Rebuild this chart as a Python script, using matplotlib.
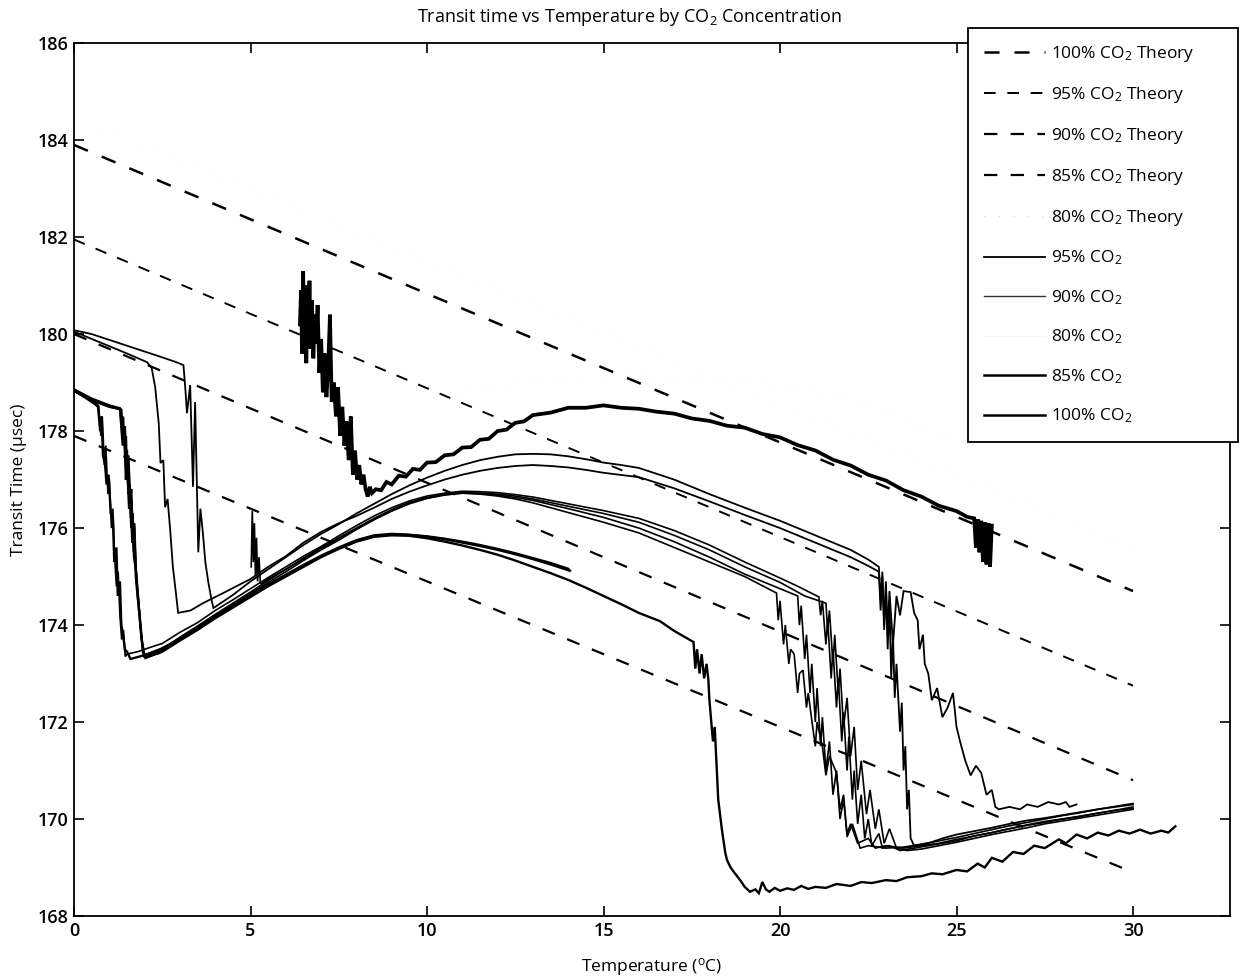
import matplotlib
matplotlib.use("Agg")
import matplotlib.pyplot as plt
from matplotlib.lines import Line2D

plt.rcParams["font.family"] = ["Open Sans", "DejaVu Sans"]
plt.rcParams["mathtext.fontset"] = "custom"
plt.rcParams["mathtext.rm"] = "Open Sans"
plt.rcParams["mathtext.it"] = "Open Sans"

# theory lines (end points, x in degC, y in usec)
theory_x = [0, 30]
theory_100 = [183.9, 174.7]
theory_95 = [181.95, 172.75]
theory_90 = [180.0, 170.8]
theory_85 = [177.9, 168.9]
theory_80 = [184.45, 175.6]

# measured runs, (temperature, transit time)
co2_100 = [(6.40, 180.2), (6.43, 180.9), (6.46, 179.6), (6.49, 181.3), (6.52, 180.0), (6.55, 181.0),
           (6.58, 179.4), (6.61, 180.8), (6.64, 179.9), (6.67, 181.1), (6.70, 179.7), (6.74, 180.7),
           (6.78, 179.5), (6.82, 180.4), (6.86, 179.8), (6.90, 180.6), (6.95, 179.2), (7.00, 179.9),
           (7.05, 178.8), (7.10, 179.6), (7.15, 178.7), (7.20, 179.3), (7.25, 180.4), (7.30, 178.6),
           (7.36, 179.0), (7.42, 178.3), (7.48, 178.9), (7.54, 177.9), (7.60, 178.5), (7.66, 177.7),
           (7.72, 178.2), (7.78, 177.4), (7.84, 178.3), (7.90, 177.1), (7.96, 177.6), (8.02, 177.0),
           (8.08, 177.3), (8.14, 176.9), (8.20, 177.1), (8.26, 176.8), (8.32, 176.65), (8.38, 176.85),
           (8.44, 176.72), (8.55, 176.8), (8.70, 176.78), (8.85, 176.95), (9.0, 176.9), (9.2, 177.08),
           (9.4, 177.06), (9.6, 177.22), (9.8, 177.2), (10.0, 177.35), (10.25, 177.36), (10.5, 177.5),
           (10.75, 177.52), (11.0, 177.66), (11.25, 177.67), (11.5, 177.82), (11.75, 177.84), (12.0, 178.0),
           (12.25, 178.03), (12.5, 178.17), (12.75, 178.2), (13.0, 178.33), (13.5, 178.38), (14.0, 178.48),
           (14.5, 178.48), (15.0, 178.53), (15.5, 178.48), (16.0, 178.46), (16.5, 178.4), (17.0, 178.36),
           (17.5, 178.26), (18.0, 178.21), (18.5, 178.11), (19.0, 178.07), (19.5, 177.94), (20.0, 177.87),
           (20.5, 177.71), (21.0, 177.6), (21.5, 177.41), (22.0, 177.29), (22.5, 177.1), (23.0, 176.98),
           (23.5, 176.78), (24.0, 176.65), (24.5, 176.46), (25.0, 176.35), (25.3, 176.23), (25.5, 176.2),
           (25.55, 175.6), (25.6, 176.18), (25.65, 175.5), (25.7, 176.15), (25.75, 175.3), (25.8, 176.12),
           (25.85, 175.25), (25.9, 176.1), (25.95, 175.2), (26.0, 176.05)]

co2_95a = [(0, 180.08), (0.5, 180.0), (1.0, 179.88), (1.5, 179.76), (2.0, 179.64), (2.5, 179.52),
           (2.9, 179.42), (3.1, 179.36), (3.15, 178.9), (3.2, 178.37), (3.29, 178.95), (3.37, 176.85),
           (3.43, 178.6), (3.52, 175.5), (3.58, 176.4), (3.65, 175.9), (3.72, 175.3), (3.8, 174.9),
           (3.9, 174.5), (3.95, 174.35), (4.5, 174.62), (5.0, 174.9), (5.5, 175.15), (6.0, 175.4),
           (6.5, 175.65), (7.0, 175.88), (7.5, 176.08), (8.0, 176.3), (8.5, 176.5), (9.0, 176.7),
           (9.5, 176.88), (10.0, 177.04), (10.5, 177.18), (11.0, 177.3), (11.5, 177.4), (12.0, 177.47),
           (12.5, 177.52), (13.0, 177.53), (13.5, 177.52), (14.0, 177.48), (14.5, 177.42), (15.0, 177.35),
           (15.5, 177.3), (16.0, 177.24), (17.0, 177.0), (18.0, 176.7), (19.0, 176.42), (20.0, 176.15),
           (21.0, 175.85), (22.0, 175.55), (22.5, 175.35), (22.8, 175.2), (22.85, 174.5), (22.9, 175.1),
           (22.95, 174.0), (23.0, 174.9), (23.05, 173.8), (23.1, 174.7), (23.2, 173.6), (23.3, 174.6),
           (23.4, 174.2), (23.5, 174.7), (23.7, 174.68), (23.8, 174.25), (23.9, 174.1), (23.95, 173.5),
           (24.05, 173.8), (24.1, 173.2), (24.2, 173.0), (24.3, 172.45), (24.45, 172.7), (24.6, 172.1),
           (24.75, 172.3), (24.9, 172.6), (25.0, 171.9), (25.1, 171.6), (25.25, 171.2), (25.4, 170.9),
           (25.55, 171.1), (25.7, 170.95), (25.85, 170.5), (26.0, 170.6), (26.1, 170.25), (26.2, 170.2),
           (26.5, 170.25), (26.8, 170.2), (27.0, 170.3), (27.3, 170.25), (27.6, 170.35), (27.9, 170.3),
           (28.1, 170.35), (28.2, 170.25), (28.4, 170.3)]

co2_95b = [(0, 180.05), (0.5, 179.9), (1.0, 179.75), (1.5, 179.6), (2.07, 179.42), (2.2, 179.3),
           (2.3, 178.9), (2.4, 178.16), (2.45, 177.34), (2.53, 177.4), (2.58, 176.43), (2.65, 176.6),
           (2.72, 176.0), (2.8, 175.2), (2.88, 174.7), (2.95, 174.25), (3.08, 174.27), (3.3, 174.3),
           (3.65, 174.45), (4.2, 174.65), (5.0, 174.95), (5.5, 175.2), (6.0, 175.42), (6.5, 175.7),
           (7.0, 175.92), (7.5, 176.1), (8.0, 176.25), (8.5, 176.42), (9.0, 176.6), (9.5, 176.75),
           (10.0, 176.88), (10.5, 177.0), (11.0, 177.1), (11.5, 177.18), (12.0, 177.24), (12.5, 177.28),
           (13.0, 177.3), (13.5, 177.28), (14.0, 177.25), (14.5, 177.2), (15.0, 177.14), (16.0, 177.05),
           (17.0, 176.82), (18.0, 176.55), (19.0, 176.27), (20.0, 176.0), (21.0, 175.7), (22.0, 175.4),
           (22.5, 175.22), (22.8, 175.1), (22.85, 174.3), (22.9, 175.0), (22.95, 173.9), (23.0, 174.8),
           (23.05, 173.5), (23.1, 174.5), (23.15, 172.9), (23.2, 173.8), (23.25, 172.5), (23.3, 173.2),
           (23.4, 171.8), (23.45, 172.4), (23.5, 171.0), (23.55, 171.5), (23.6, 170.2), (23.65, 170.6),
           (23.7, 169.6), (23.8, 169.45), (24.2, 169.5), (24.6, 169.6), (25.0, 169.68), (25.5, 169.75),
           (26.0, 169.82), (26.5, 169.9), (27.0, 169.97), (27.5, 170.02), (28.0, 170.08), (28.5, 170.14),
           (29.0, 170.2), (29.5, 170.25), (30.0, 170.3)]

co2_90a = [(0, 178.85), (0.3, 178.72), (0.6, 178.58), (0.7, 178.52), (0.76, 177.9), (0.8, 178.3),
           (0.86, 177.3), (0.9, 177.7), (0.96, 176.7), (1.0, 177.0), (1.06, 176.0), (1.1, 176.4),
           (1.15, 175.4), (1.2, 174.8), (1.25, 175.1), (1.3, 174.2), (1.35, 173.7), (1.4, 173.9),
           (1.45, 173.35), (1.5, 173.4), (1.8, 173.45), (2.2, 173.55), (2.5, 173.62), (3.0, 173.85),
           (3.5, 174.05), (4.0, 174.3), (4.5, 174.52), (5.0, 174.75), (5.5, 174.98), (6.0, 175.2),
           (6.5, 175.42), (7.0, 175.62), (7.5, 175.84), (8.0, 176.05), (8.5, 176.25), (9.0, 176.42),
           (9.5, 176.56), (10.0, 176.66), (10.5, 176.72), (11.0, 176.76), (11.5, 176.75), (12.0, 176.73),
           (12.5, 176.69), (13.0, 176.64), (14.0, 176.5), (15.0, 176.36), (16.0, 176.2), (17.0, 175.95),
           (18.0, 175.65), (19.0, 175.3), (20.0, 174.97), (20.5, 174.8), (21.1, 174.58), (21.15, 174.2),
           (21.2, 174.5), (21.3, 173.6), (21.35, 174.1), (21.45, 172.9), (21.5, 173.5), (21.6, 172.3),
           (21.65, 172.9), (21.75, 171.6), (21.8, 172.2), (21.9, 171.0), (21.95, 171.7), (22.05, 170.4),
           (22.1, 171.0), (22.2, 169.9), (22.3, 170.5), (22.4, 169.6), (22.5, 170.0), (22.6, 169.45),
           (22.8, 169.7), (22.9, 169.4), (23.1, 169.45), (23.4, 169.35), (23.8, 169.4), (24.2, 169.45),
           (24.6, 169.5), (25.0, 169.55), (25.5, 169.65), (26.0, 169.72), (26.5, 169.8), (27.0, 169.88),
           (27.5, 169.95), (28.0, 170.0), (28.5, 170.05), (29.0, 170.12), (29.5, 170.18), (30.0, 170.22)]

co2_90b = [(0, 178.85), (0.5, 178.66), (1.0, 178.52), (1.3, 178.46), (1.36, 178.0), (1.4, 178.3),
           (1.44, 177.6), (1.48, 177.9), (1.52, 176.9), (1.56, 177.2), (1.6, 176.2), (1.64, 176.6),
           (1.68, 175.5), (1.72, 175.8), (1.78, 174.8), (1.84, 174.4), (1.9, 173.8), (1.95, 173.5),
           (2.0, 173.34), (2.3, 173.42), (2.6, 173.55), (3.0, 173.75), (3.5, 173.98), (4.0, 174.22),
           (4.5, 174.45), (5.0, 174.68), (5.5, 174.92), (6.0, 175.15), (6.5, 175.38), (7.0, 175.6),
           (7.5, 175.8), (8.0, 176.0), (8.5, 176.2), (9.0, 176.38), (9.5, 176.53), (10.0, 176.63),
           (10.5, 176.7), (11.0, 176.73), (11.5, 176.72), (12.0, 176.7), (12.5, 176.66), (13.0, 176.6),
           (14.0, 176.45), (15.0, 176.3), (16.0, 176.12), (17.0, 175.85), (18.0, 175.55), (19.0, 175.2),
           (20.0, 174.88), (20.7, 174.6), (21.3, 174.45), (21.35, 173.9), (21.4, 174.3), (21.5, 173.2),
           (21.55, 173.8), (21.65, 172.6), (21.7, 173.1), (21.8, 171.9), (21.9, 172.5), (22.0, 171.3),
           (22.1, 171.9), (22.2, 170.6), (22.3, 171.2), (22.45, 170.1), (22.55, 170.6), (22.7, 169.8),
           (22.8, 170.2), (22.95, 169.5), (23.1, 169.8), (23.3, 169.4), (23.6, 169.35), (24.0, 169.38),
           (24.5, 169.45), (25.0, 169.52), (25.5, 169.6), (26.0, 169.68), (26.5, 169.75), (27.0, 169.82),
           (27.5, 169.9), (28.0, 169.96), (28.5, 170.02), (29.0, 170.08), (29.5, 170.14), (30.0, 170.2)]

co2_90c = [(0, 178.82), (0.5, 178.63), (1.0, 178.5), (1.35, 178.44), (1.4, 177.8), (1.45, 178.1),
           (1.5, 177.2), (1.55, 177.5), (1.6, 176.5), (1.63, 176.8), (1.67, 175.9), (1.72, 176.1),
           (1.76, 175.1), (1.82, 174.6), (1.88, 174.0), (1.93, 173.6), (1.98, 173.38), (2.3, 173.45),
           (2.7, 173.6), (3.0, 173.73), (3.5, 173.96), (4.0, 174.2), (4.5, 174.42), (5.0, 174.65),
           (5.5, 174.88), (6.0, 175.1), (6.5, 175.33), (7.0, 175.55), (7.5, 175.75), (8.0, 175.97),
           (8.5, 176.17), (9.0, 176.35), (9.5, 176.5), (10.0, 176.61), (10.5, 176.68), (11.0, 176.72),
           (11.5, 176.71), (12.0, 176.68), (12.5, 176.63), (13.0, 176.57), (14.0, 176.4), (15.0, 176.22),
           (16.0, 176.0), (17.0, 175.72), (18.0, 175.4), (19.0, 175.05), (20.0, 174.75), (20.5, 174.6),
           (20.55, 174.0), (20.6, 174.4), (20.7, 173.3), (20.75, 173.8), (20.85, 172.6), (20.9, 173.2),
           (21.0, 172.0), (21.05, 172.7), (21.15, 171.5), (21.2, 172.1), (21.3, 171.0), (21.4, 171.6),
           (21.5, 170.5), (21.6, 171.0), (21.7, 170.0), (21.8, 170.4), (21.9, 169.7), (22.0, 169.9),
           (22.2, 169.5), (22.5, 169.6), (22.7, 169.4), (23.0, 169.45), (23.5, 169.4), (24.0, 169.45),
           (24.5, 169.5), (25.0, 169.58), (25.5, 169.65), (26.0, 169.72), (26.5, 169.8), (27.0, 169.87),
           (27.5, 169.93), (28.0, 170.0), (28.5, 170.06), (29.0, 170.12), (29.5, 170.18), (30.0, 170.25)]

co2_90d = [(5.02, 175.2), (5.05, 176.35), (5.08, 175.3), (5.11, 176.1), (5.14, 175.0), (5.17, 175.8),
           (5.2, 174.9), (5.24, 175.4), (5.28, 174.85), (5.5, 174.95), (6.0, 175.15), (6.5, 175.36),
           (7.0, 175.58), (7.5, 175.78), (8.0, 175.98), (8.5, 176.18), (9.0, 176.36), (9.5, 176.52),
           (10.0, 176.62), (10.5, 176.69), (11.0, 176.72), (11.5, 176.7), (12.0, 176.66), (12.5, 176.6),
           (13.0, 176.52), (14.0, 176.32), (15.0, 176.12), (16.0, 175.9), (17.0, 175.6), (18.0, 175.3),
           (19.0, 175.0), (19.9, 174.66), (19.95, 174.1), (20.0, 174.5), (20.1, 173.6), (20.15, 174.0),
           (20.25, 173.2), (20.3, 173.5), (20.4, 173.4), (20.5, 172.6), (20.55, 173.0), (20.65, 173.07),
           (20.75, 172.3), (20.8, 172.6), (20.9, 172.04), (21.0, 171.5), (21.05, 172.0), (21.2, 171.5),
           (21.3, 170.9), (21.4, 171.3), (21.6, 170.95), (21.7, 170.2), (21.8, 170.5), (21.9, 169.63),
           (22.05, 169.9), (22.27, 169.4), (22.5, 169.45), (23.0, 169.4), (23.5, 169.42), (24.0, 169.48),
           (24.5, 169.55), (25.0, 169.62), (25.5, 169.7), (26.0, 169.78), (26.5, 169.86), (27.0, 169.93),
           (27.5, 170.0), (28.0, 170.07), (28.5, 170.13), (29.0, 170.2), (29.5, 170.26), (30.0, 170.32)]

co2_85a = [(0, 178.83), (0.3, 178.7), (0.6, 178.55), (0.68, 178.5), (0.74, 178.0), (0.78, 178.3),
           (0.82, 177.5), (0.88, 177.3), (0.92, 176.9), (0.98, 177.1), (1.04, 176.3), (1.1, 176.2),
           (1.14, 175.3), (1.2, 175.6), (1.24, 174.6), (1.3, 174.9), (1.34, 174.0), (1.39, 173.8),
           (1.44, 173.5), (1.5, 173.45), (1.6, 173.3), (2.0, 173.38), (2.5, 173.52), (3.0, 173.72),
           (3.5, 173.95), (4.0, 174.18), (4.5, 174.4), (5.0, 174.62), (5.5, 174.84), (6.0, 175.04),
           (6.5, 175.24), (7.0, 175.43), (7.5, 175.6), (8.0, 175.75), (8.5, 175.85), (9.0, 175.88),
           (9.5, 175.86), (10.0, 175.82), (10.5, 175.77), (11.0, 175.7), (11.5, 175.63), (12.0, 175.55),
           (12.5, 175.46), (13.0, 175.36), (13.5, 175.25), (14.0, 175.13)]

co2_85b = [(0, 178.86), (0.5, 178.67), (1.0, 178.53), (1.3, 178.47), (1.38, 177.7), (1.42, 178.0),
           (1.47, 177.0), (1.5, 177.4), (1.56, 176.4), (1.6, 176.7), (1.65, 175.7), (1.7, 176.0),
           (1.75, 175.0), (1.8, 174.6), (1.87, 174.1), (1.92, 173.7), (2.0, 173.35), (2.4, 173.42),
           (3.0, 173.7), (3.5, 173.93), (4.0, 174.16), (4.5, 174.38), (5.0, 174.6), (5.5, 174.82),
           (6.0, 175.02), (6.5, 175.22), (7.0, 175.42), (7.5, 175.58), (8.0, 175.73), (8.5, 175.83),
           (9.0, 175.87), (9.5, 175.86), (10.0, 175.83), (10.5, 175.78), (11.0, 175.72), (11.5, 175.65),
           (12.0, 175.57), (12.5, 175.48), (13.0, 175.38), (13.5, 175.28), (14.0, 175.16), (14.05, 175.12)]

co2_85c = [(0, 178.84), (0.5, 178.64), (1.0, 178.5), (1.32, 178.45), (1.37, 177.9), (1.42, 178.1),
           (1.46, 177.4), (1.5, 177.6), (1.55, 176.7), (1.58, 176.9), (1.62, 176.0), (1.66, 176.3),
           (1.7, 175.4), (1.76, 175.1), (1.82, 174.5), (1.89, 173.9), (1.95, 173.45), (2.02, 173.32),
           (2.5, 173.45), (3.0, 173.68), (3.5, 173.9), (4.0, 174.14), (4.5, 174.36), (5.0, 174.58),
           (5.5, 174.8), (6.0, 175.0), (6.5, 175.2), (7.0, 175.4), (7.5, 175.57), (8.0, 175.72),
           (8.5, 175.82), (9.0, 175.85), (9.5, 175.84), (10.0, 175.79), (10.5, 175.72), (11.0, 175.64),
           (11.5, 175.55), (12.0, 175.45), (12.5, 175.33), (13.0, 175.2), (13.5, 175.07), (14.0, 174.93),
           (14.5, 174.77), (15.0, 174.6), (15.5, 174.43), (16.0, 174.25), (16.6, 174.08), (17.0, 173.88),
           (17.55, 173.65), (17.6, 173.1), (17.65, 173.5), (17.72, 173.0), (17.78, 173.4), (17.85, 172.9),
           (17.92, 173.2), (17.97, 172.87), (18.0, 172.45), (18.1, 171.6), (18.15, 171.9), (18.25, 170.4),
           (18.35, 169.8), (18.45, 169.3), (18.5, 169.15), (18.6, 169.0), (18.7, 168.9), (18.87, 168.74),
           (19.0, 168.6), (19.15, 168.5), (19.3, 168.55), (19.4, 168.47), (19.5, 168.7), (19.6, 168.55),
           (19.7, 168.5), (19.85, 168.58), (20.0, 168.52), (20.2, 168.57), (20.4, 168.54), (20.6, 168.62),
           (20.8, 168.56), (21.0, 168.6), (21.3, 168.58), (21.6, 168.66), (22.0, 168.62), (22.3, 168.7),
           (22.6, 168.68), (23.0, 168.74), (23.3, 168.72), (23.6, 168.8), (24.0, 168.82), (24.3, 168.88),
           (24.6, 168.86), (25.0, 168.95), (25.3, 168.92), (25.6, 169.08), (25.8, 169.0), (26.0, 169.2),
           (26.3, 169.12), (26.6, 169.32), (26.9, 169.28), (27.2, 169.45), (27.5, 169.4), (27.9, 169.58),
           (28.1, 169.5), (28.4, 169.68), (28.7, 169.6), (29.0, 169.72), (29.3, 169.66), (29.6, 169.76),
           (29.9, 169.7), (30.2, 169.78), (30.5, 169.7), (30.8, 169.76), (31.0, 169.72), (31.2, 169.85)]

co2_80 = [(10.2, 178.7), (12.0, 178.95), (14.0, 179.1), (16.0, 179.15), (18.0, 179.05),
          (20.0, 178.95), (22.0, 178.65), (24.0, 178.1), (25.5, 177.7)]

fig = plt.figure(figsize=(12.4, 9.8), dpi=100)
ax = fig.add_axes([0.0597, 0.0653, 0.9323, 0.8907])

dash = (6, 6)
ax.plot(theory_x, theory_100, color="black", lw=1.8, dashes=dash)
ax.plot(theory_x, theory_95, color="black", lw=1.4, dashes=dash)
ax.plot(theory_x, theory_90, color="black", lw=1.6, dashes=dash)
ax.plot(theory_x, theory_85, color="black", lw=1.6, dashes=dash)
ax.plot(theory_x, theory_80, color="0.96", lw=0.8, dashes=(1, 12))


def draw(run, **kw):
    xs = [p[0] for p in run]
    ys = [p[1] for p in run]
    ax.plot(xs, ys, color="black", solid_joinstyle="miter", **kw)


for run in [co2_95a, co2_95b]:
    draw(run, lw=1.3)
for run in [co2_90a, co2_90b, co2_90c, co2_90d]:
    draw(run, lw=1.2)
ax.plot([p[0] for p in co2_80], [p[1] for p in co2_80], color="0.95", lw=0.8, dashes=(1, 10))
for run in [co2_85a, co2_85b, co2_85c]:
    draw(run, lw=1.7)
draw(co2_100, lw=2.7)

ax.set_xlim(0, 32.75)
ax.set_ylim(168, 186)
ax.set_xticks(range(0, 31, 5))
ax.set_yticks(range(168, 187, 2))
ax.tick_params(direction="in", top=True, right=True, length=7, width=1.2,
               labelsize=13, pad=4)
for lab in ax.get_xticklabels() + ax.get_yticklabels():
    lab.set_fontweight("semibold")
for s in ax.spines.values():
    s.set_linewidth(1.3)

fig.text(629 / 1240, 1 - 17 / 980, "Transit time vs Temperature by CO$_2$ Concentration",
         ha="center", va="center", fontsize=13)
fig.text(652 / 1240, 1 - 967 / 980, "Temperature ($^{\\mathrm{o}}$C)",
         ha="center", va="center", fontsize=12.5)
fig.text(19 / 1240, 1 - 480 / 980, "Transit Time (\u00b5sec)", rotation=90,
         ha="center", va="center", fontsize=12.5)

handles = [
    Line2D([], [], color="black", lw=1.8, dashes=dash),
    Line2D([], [], color="black", lw=1.4, dashes=dash),
    Line2D([], [], color="black", lw=1.6, dashes=dash),
    Line2D([], [], color="black", lw=1.6, dashes=dash),
    Line2D([], [], color="0.85", lw=0.8, dashes=(1, 12)),
    Line2D([], [], color="black", lw=1.3),
    Line2D([], [], color="0.2", lw=1.0),
    Line2D([], [], color="0.97", lw=0.8),
    Line2D([], [], color="black", lw=1.8),
    Line2D([], [], color="black", lw=1.8),
]
labels = ["100% CO$_2$ Theory", "95% CO$_2$ Theory", "90% CO$_2$ Theory",
          "85% CO$_2$ Theory", "80% CO$_2$ Theory", "95% CO$_2$", "90% CO$_2$",
          "80% CO$_2$", "85% CO$_2$", "100% CO$_2$"]
leg = fig.legend(handles, labels, loc="upper left",
                 bbox_to_anchor=(968 / 1240, 1 - 441 / 980, 270 / 1240, 413 / 980),
                 mode="expand", fontsize=12.5, handlelength=3.5, handletextpad=0.35,
                 labelspacing=1.2, borderpad=0.95, borderaxespad=0, fancybox=False,
                 framealpha=1)
leg.get_frame().set_edgecolor("black")
leg.get_frame().set_linewidth(1.3)

fig.savefig("out.png", dpi=100)
